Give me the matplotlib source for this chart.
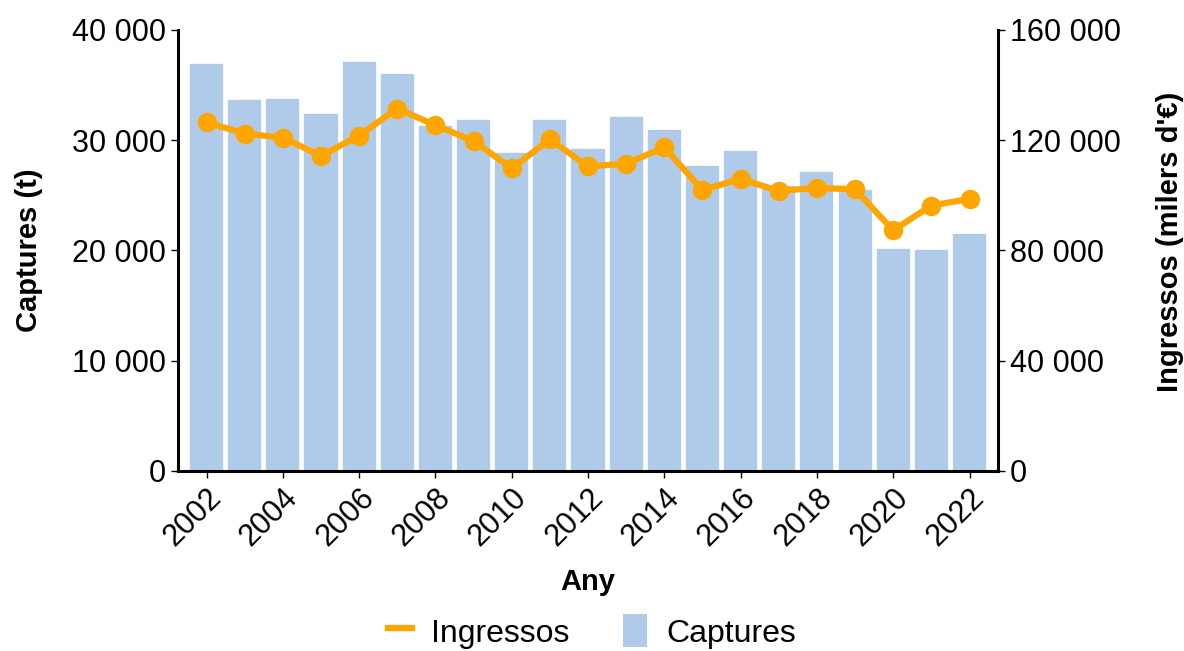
import numpy as np
import matplotlib
matplotlib.use("Agg")
import matplotlib.pyplot as plt
from matplotlib.ticker import FuncFormatter, MultipleLocator
from matplotlib.lines import Line2D
from matplotlib.patches import Patch

# data
years = np.arange(2002, 2023)
captures_t = [37000, 33700, 33800, 32500, 37200, 36100, 31400, 31900, 28900, 31950,
              29300, 32200, 31000, 27750, 29100, 25900, 27250, 25600, 20250, 20150, 21600]
ingressos_keur = [126500, 122400, 120900, 114300, 121700, 131500, 125400, 119700, 109800, 120300,
                  110500, 111500, 117400, 101900, 106000, 101600, 102700, 102200, 87300, 96300, 98700]

bar_color = "#b0cbea"
line_color = "#ffa500"

plt.rcParams["font.family"] = ["Liberation Sans", "DejaVu Sans"]


def thousands(v, pos):
    return f"{int(round(v)):,}".replace(",", " ")


fig = plt.figure(figsize=(11.84, 6.51), dpi=100)
ax = fig.add_axes([0.1503, 0.2765, 0.6927, 0.6775])
ax2 = ax.twinx()

ax.bar(years, captures_t, width=0.92, color=bar_color, edgecolor="white", linewidth=1.2, zorder=2)
ax2.plot(years, ingressos_keur, color=line_color, linewidth=4.5, marker="o", markersize=13, zorder=3)

ax.set_xlim(years[0] - 0.75, years[-1] + 0.75)
ax.set_ylim(0, 40000)
ax2.set_ylim(0, 160000)
ax.yaxis.set_major_locator(MultipleLocator(10000))
ax2.yaxis.set_major_locator(MultipleLocator(40000))
ax.yaxis.set_major_formatter(FuncFormatter(thousands))
ax2.yaxis.set_major_formatter(FuncFormatter(thousands))

ax.set_xticks(years[::2])
ax.set_xticklabels([str(y) for y in years[::2]], rotation=45, ha="right", va="top",
                   rotation_mode="anchor")

for a in (ax, ax2):
    a.spines["top"].set_visible(False)
    for s in ("left", "right", "bottom"):
        a.spines[s].set_linewidth(2.2)
    a.tick_params(labelsize=22, width=1, length=5, colors="black")
ax.spines["right"].set_visible(False)
ax2.spines["left"].set_visible(False)
ax2.spines["bottom"].set_visible(False)

ax.set_xlabel("Any", fontsize=21, fontweight="bold")
ax.set_ylabel("Captures (t)", fontsize=21, fontweight="bold")
ax2.set_ylabel("Ingressos (milers d'€)", fontsize=21, fontweight="bold")
ax.xaxis.set_label_coords(0.5, -0.22)
ax.yaxis.set_label_coords(-0.165, 0.5)
ax2.yaxis.set_label_coords(1.192, 0.52)

handles = [Line2D([0], [0], color=line_color, linewidth=4.5),
           Patch(facecolor=bar_color, edgecolor="none")]
fig.legend(handles, ["Ingressos", "Captures"], loc="center", bbox_to_anchor=(0.5, 0.03),
           ncol=2, frameon=False, fontsize=23, handlelength=0.75, handleheight=1.2,
           columnspacing=1.7, handletextpad=0.6, borderpad=0.1)

fig.savefig("out.png", dpi=100)
